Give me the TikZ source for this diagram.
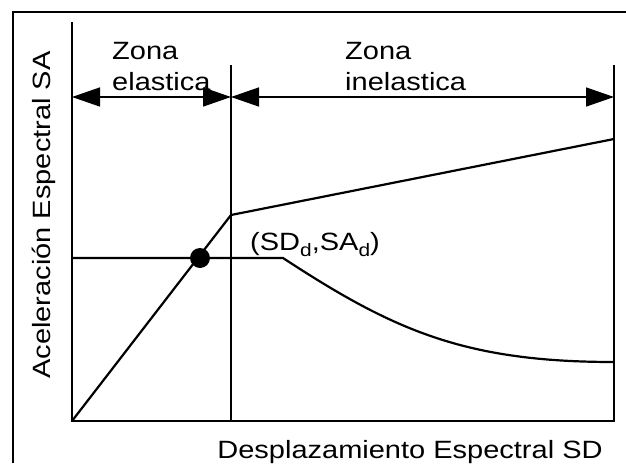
\documentclass[tikz,border=0pt]{standalone}
\usepackage{fontspec}
\setmainfont{Liberation Sans}[FakeStretch=1.16]
\usetikzlibrary{arrows.meta}

\newcommand{\dsub}{\raisebox{-6pt}{\fontsize{18}{18}\selectfont d}}

\begin{document}
\begin{tikzpicture}[x=1pt, y=-1pt,
	curve/.style={line width=2.2pt},
	zone/.style={line width=1.5pt, {Triangle[length=28pt,width=19pt]}-{Triangle[length=28pt,width=19pt]}},
	lbl/.style={font=\fontsize{25}{31}\selectfont, inner sep=0pt}]

	\useasboundingbox (0,0) rectangle (626,463);

	% Draw the frame
	\draw[line width=1.4pt] (13,463) -- (13,12) -- (626,12);

	% Define the key points
	\coordinate (origin) at (72,421);
	\coordinate (ytop) at (72,22);
	\coordinate (xend) at (614,421);
	\coordinate (yield) at (231,215);
	\coordinate (limtop) at (231,65);
	\coordinate (limbot) at (231,421);
	\coordinate (rtop) at (614,65);
	\coordinate (rend) at (614,139);
	\coordinate (demand) at (72,258);
	\coordinate (knee) at (283,258);
	\coordinate (dend) at (614,362);

	% Draw the axes and zone limits
	\draw[curve] (ytop) -- (origin) -- (xend) -- (rtop);
	\draw[curve] (limtop) -- (limbot);

	% Draw the zone arrows
	\draw[zone] (72,97) -- (231,97);
	\draw[zone] (231,97) -- (614,97);

	% Draw the capacity curve
	\draw[curve] (origin) -- (yield) -- (rend);

	% Draw the demand curve
	\draw[curve] (demand) -- (knee) .. controls (393,330) and (464,362) .. (dend);
	\fill (200,258) circle (10pt);

	% Labels
	\node[lbl, anchor=north west, align=left] (elas) at (112,42) {Zona\\elastica};
	\node[lbl, anchor=north west, align=left] (inelas) at (345,42) {Zona\\inelastica};
	\node[lbl, anchor=base west] (pt) at (250,250) {(SD\dsub,SA\dsub)};
	\node[lbl, anchor=base] (xlab) at (410,458) {Desplazamiento Espectral SD};
	\node[lbl, anchor=base, rotate=90] (ylab) at (50,215) {Aceleración Espectral SA};

\end{tikzpicture}
\end{document}
